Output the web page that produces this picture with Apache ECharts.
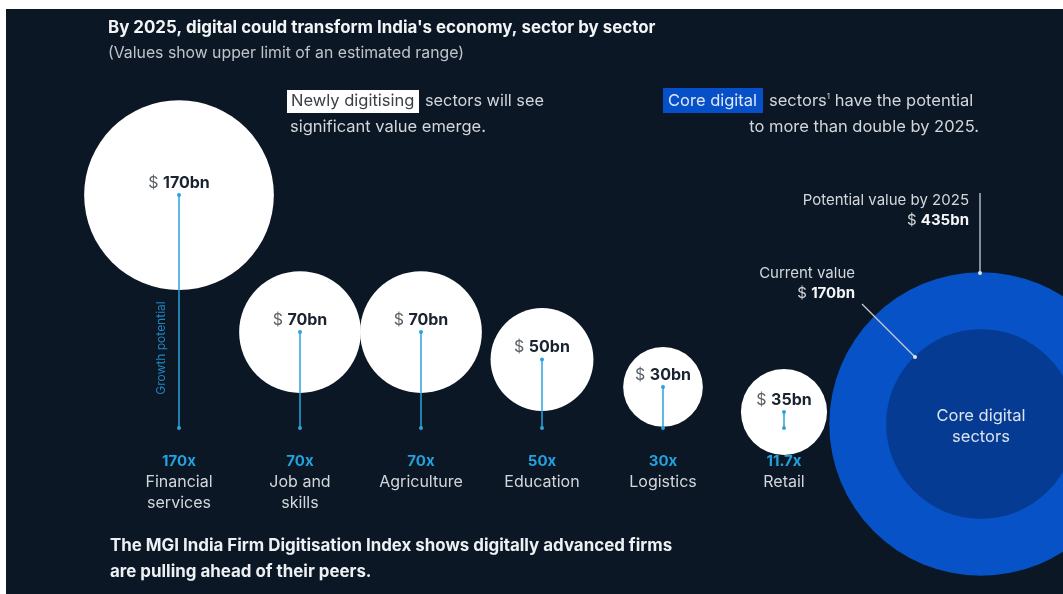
<!DOCTYPE html>
<html>
<head>
<meta charset="utf-8">
<script src="https://cdn.jsdelivr.net/npm/echarts@6/dist/echarts.min.js"></script>
<style>
  html, body { margin: 0; padding: 0; background: #ffffff; }
  #chart { width: 1063px; height: 594px; }
</style>
</head>
<body>
<div id="chart"></div>
<script>
// ---- data ----
const categories = ['Financial\nservices', 'Job and\nskills', 'Agriculture', 'Education', 'Logistics', 'Retail'];
const valuesBn = [170, 70, 70, 50, 30, 35];          // potential value by 2025 ($bn)
const growthMultiple = [170, 70, 70, 50, 30, 11.7];  // growth potential (x)
const growthLabels = ['170x', '70x', '70x', '50x', '30x', '11.7x'];
const coreCategories = ['Core digital sectors'];
const coreCurrentBn = [170];
const corePotentialBn = [435];

// ---- styles ----
const FONT = 'Inter, Roboto, "Noto Sans", sans-serif';
const BG = '#0b1724';
const BLUE_LINE = '#2aa3dc';
const TEXT = '#d3d7dc';
const CORE_OUTER = '#0652c6';
const CORE_INNER = '#053b92';
const K = 14.55; // diameter per sqrt($bn) -> circle area proportional to value

const chart = echarts.init(document.getElementById('chart'), null, { renderer: 'canvas' });

const option = {
  backgroundColor: '#ffffff',
  animation: false,
  textStyle: { fontFamily: FONT },
  grid: [
    { left: 118.5, width: 726, top: 154, bottom: 166 },
    { left: 900, width: 162, top: 374, height: 100 }
  ],
  xAxis: [
    {
      gridIndex: 0, type: 'category', data: categories, z: 6,
      axisLine: { show: false }, axisTick: { show: false }, splitLine: { show: false },
      axisLabel: {
        interval: 0, margin: 23,
        formatter: function (value, idx) {
          const lines = value.split('\n').map(s => '{n|' + s + '}').join('\n');
          return '{g|' + growthLabels[idx] + '}\n' + lines;
        },
        rich: {
          g: { color: '#22a2de', fontWeight: 'bold', fontSize: 15, lineHeight: 21, fontFamily: FONT },
          n: { color: TEXT, fontSize: 16, lineHeight: 21, fontFamily: FONT }
        }
      }
    },
    { gridIndex: 1, type: 'category', data: coreCategories, show: false }
  ],
  yAxis: [
    { gridIndex: 0, type: 'value', min: 0, max: 200, show: false, splitLine: { show: false } },
    { gridIndex: 1, type: 'value', min: -1, max: 1, show: false, splitLine: { show: false } }
  ],
  series: [
    {
      type: 'scatter', xAxisIndex: 0, yAxisIndex: 0, z: 3, clip: false,
      data: valuesBn.map((v, i) => [i, growthMultiple[i], v]),
      symbol: 'circle',
      symbolSize: d => K * Math.sqrt(d[2]),
      itemStyle: { color: '#ffffff', opacity: 1 },
      label: {
        show: true, position: 'inside', offset: [0, -12],
        formatter: p => '{d|$ }{v|' + p.data[2] + 'bn}',
        rich: {
          d: { color: '#5a5f66', fontSize: 16, fontFamily: FONT },
          v: { color: '#1b2330', fontSize: 16, fontWeight: 'bold', fontFamily: FONT }
        }
      }
    },
    {
      type: 'custom', xAxisIndex: 0, yAxisIndex: 0, z: 4, clip: false,
      data: growthMultiple.map((g, i) => [i, g]),
      renderItem: function (params, api) {
        const top = api.coord([api.value(0), api.value(1)]);
        const bot = api.coord([api.value(0), 0]);
        return {
          type: 'group',
          children: [
            { type: 'line', shape: { x1: top[0], y1: top[1], x2: bot[0], y2: bot[1] }, style: { stroke: BLUE_LINE, lineWidth: 1.5 } },
            { type: 'circle', shape: { cx: top[0], cy: top[1], r: 2 }, style: { fill: BLUE_LINE } },
            { type: 'circle', shape: { cx: bot[0], cy: bot[1], r: 2 }, style: { fill: BLUE_LINE } }
          ]
        };
      }
    },
    {
      type: 'scatter', xAxisIndex: 1, yAxisIndex: 1, z: 3, clip: false,
      data: corePotentialBn.map((v, i) => [i, 0, v]),
      symbol: 'circle',
      symbolSize: d => K * Math.sqrt(d[2]),
      itemStyle: { color: CORE_OUTER, opacity: 1 },
      label: { show: false }
    },
    {
      type: 'scatter', xAxisIndex: 1, yAxisIndex: 1, z: 4, clip: false,
      data: coreCurrentBn.map((v, i) => [i, 0, v]),
      symbol: 'circle',
      symbolSize: d => K * Math.sqrt(d[2]),
      itemStyle: { color: CORE_INNER, opacity: 1 },
      label: {
        show: true, position: 'inside', offset: [0, 3],
        formatter: 'Core digital\nsectors',
        color: '#dce3ef', fontSize: 16.5, lineHeight: 21, fontFamily: FONT
      }
    }
  ],
  graphic: [
    { type: 'rect', z: -10, silent: true, shape: { x: 6, y: 9, width: 1057, height: 585 }, style: { fill: BG } },
    // title
    { type: 'text', z: 10, x: 108, y: 28, style: { text: "By 2025, digital could transform India's economy, sector by sector", fill: '#f2f4f6', font: 'bold 16.9px ' + FONT, verticalAlign: 'middle' } },
    { type: 'text', z: 10, x: 108, y: 53, style: { text: '(Values show upper limit of an estimated range)', fill: '#bfc4ca', font: '15.8px ' + FONT, verticalAlign: 'middle' } },
    // newly digitising
    { type: 'rect', z: 10, shape: { x: 287, y: 90, width: 132, height: 23 }, style: { fill: '#ffffff' } },
    { type: 'text', z: 11, x: 291, y: 101, style: { text: 'Newly digitising', fill: '#3a3f46', font: '16.5px ' + FONT, verticalAlign: 'middle' } },
    { type: 'text', z: 11, x: 425, y: 101, style: { text: 'sectors will see', fill: TEXT, font: '16.3px ' + FONT, verticalAlign: 'middle' } },
    { type: 'text', z: 11, x: 290, y: 127, style: { text: 'significant value emerge.', fill: TEXT, font: '16.5px ' + FONT, verticalAlign: 'middle' } },
    // core digital note
    { type: 'rect', z: 10, shape: { x: 663, y: 88, width: 100, height: 25 }, style: { fill: '#0550c8' } },
    { type: 'text', z: 11, x: 668, y: 101, style: { text: 'Core digital', fill: '#dfe7f5', font: '16.5px ' + FONT, verticalAlign: 'middle' } },
    { type: 'text', z: 11, x: 769, y: 101, style: {
        text: '{a|sectors}{s|1}{a| have the potential}', align: 'left', verticalAlign: 'middle',
        rich: { a: { fill: TEXT, font: '16.5px ' + FONT }, s: { fill: TEXT, font: '8px ' + FONT, verticalAlign: 'top', padding: [0, 0, 8, 0] } } } },
    { type: 'text', z: 11, x: 979, y: 127, style: { text: 'to more than double by 2025.', fill: TEXT, font: '16.5px ' + FONT, align: 'right', verticalAlign: 'middle' } },
    // potential value annotation
    { type: 'text', z: 11, x: 969, y: 200, style: { text: 'Potential value by 2025', fill: TEXT, font: '15px ' + FONT, align: 'right', verticalAlign: 'middle' } },
    { type: 'text', z: 11, x: 969, y: 220, style: {
        text: '{d|$ }{v|435bn}', align: 'right', verticalAlign: 'middle',
        rich: { d: { fill: TEXT, font: '15px ' + FONT }, v: { fill: '#f4f6f8', font: 'bold 15px ' + FONT } } } },
    { type: 'line', z: 20, shape: { x1: 980, y1: 193, x2: 980, y2: 273 }, style: { stroke: '#c9ced6', lineWidth: 1.3 } },
    { type: 'circle', z: 20, shape: { cx: 980, cy: 273, r: 2 }, style: { fill: '#dde2ea' } },
    // current value annotation
    { type: 'text', z: 11, x: 855, y: 273, style: { text: 'Current value', fill: TEXT, font: '15px ' + FONT, align: 'right', verticalAlign: 'middle' } },
    { type: 'text', z: 11, x: 855, y: 293, style: {
        text: '{d|$ }{v|170bn}', align: 'right', verticalAlign: 'middle',
        rich: { d: { fill: TEXT, font: '15px ' + FONT }, v: { fill: '#f4f6f8', font: 'bold 15px ' + FONT } } } },
    { type: 'line', z: 20, shape: { x1: 862, y1: 304, x2: 915, y2: 357 }, style: { stroke: '#c9ced6', lineWidth: 1.3 } },
    { type: 'circle', z: 20, shape: { cx: 915, cy: 357, r: 2 }, style: { fill: '#dde2ea' } },
    // growth potential axis label
    { type: 'text', z: 11, x: 161, y: 348, rotation: Math.PI / 2, style: { text: 'Growth potential', fill: '#1d86bd', font: '12px ' + FONT, align: 'center', verticalAlign: 'middle' } },
    // footer
    { type: 'text', z: 11, x: 110, y: 546, style: { text: 'The MGI India Firm Digitisation Index shows digitally advanced firms', fill: '#eef1f4', font: 'bold 16.9px ' + FONT, verticalAlign: 'middle' } },
    { type: 'text', z: 11, x: 110, y: 572, style: { text: 'are pulling ahead of their peers.', fill: '#eef1f4', font: 'bold 16.9px ' + FONT, verticalAlign: 'middle' } }
  ]
};

chart.setOption(option);
</script>
</body>
</html>
